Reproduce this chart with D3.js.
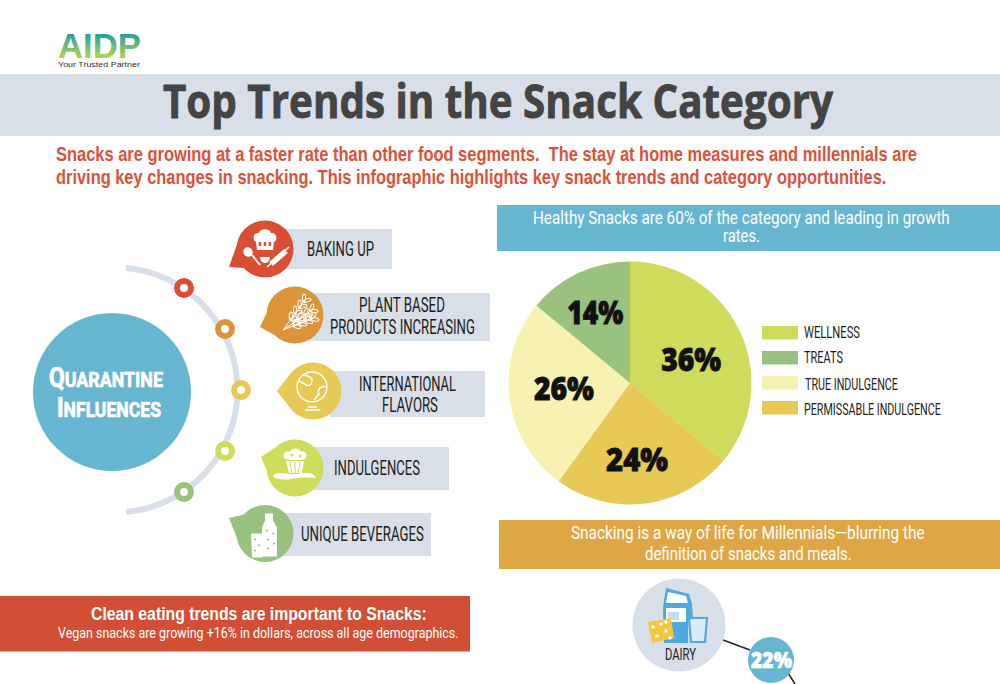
<!DOCTYPE html>
<html><head><meta charset="utf-8">
<script src="https://cdn.jsdelivr.net/npm/d3@7"></script>
<style>html,body{margin:0;padding:0;background:#fff}svg{display:block}</style></head>
<body><svg id="c" width="1000" height="684"></svg>
<script>
const pieCategories = ["WELLNESS","PERMISSABLE INDULGENCE","TRUE INDULGENCE","TREATS"];
const pieValues = [36,24,26,14];
const pieColors = ["#cfdb5b","#e9c955","#f8f2b2","#98c27e"];
const legendOrder = ["WELLNESS","TREATS","TRUE INDULGENCE","PERMISSABLE INDULGENCE"];
const trendLabels = ["BAKING UP","PLANT BASED","PRODUCTS INCREASING","INTERNATIONAL","FLAVORS","INDULGENCES","UNIQUE BEVERAGES"];
const trendColors = ["#d94f33","#dd9438","#e9c955","#cfdb5b","#98c27e"];
const dairyShare = "22%";

const svg = d3.select("#c");
const NARROW = "Roboto,'Liberation Sans',sans-serif";
const SANS = "'Liberation Sans',sans-serif";
const OPEN = "'Open Sans',sans-serif";
const band = "#d9dfe9", blue = "#67b6d1", dark = "#1d1d1b";

function rect(x0,y0,x1,y1,fill,p=svg){return p.append("rect").attr("x",x0).attr("y",y0).attr("width",x1-x0).attr("height",y1-y0).attr("fill",fill);}
/* fit: squeeze a text horizontally so it spans x0..x1 with its baseline at y */
function fit(sel,x0,x1,y){
  const w=sel.node().getComputedTextLength();
  return sel.attr("transform",`translate(${x0},${y}) scale(${(x1-x0)/w},1)`);
}
function txt(s,x0,x1,y,size,fill,font=NARROW,weight=400,p=svg){
  const t=p.append("text").text(s).attr("font-family",font).attr("font-size",size)
    .attr("font-weight",weight).attr("fill",fill).attr("xml:space","preserve");
  return s?fit(t,x0,x1,y):t;
}

/* logo */
const defs = svg.append("defs");
const g = defs.append("linearGradient").attr("id","lg").attr("x1",0).attr("x2",0).attr("y1",0).attr("y2",1);
g.append("stop").attr("offset","15%").attr("stop-color","#0f9aa6");
g.append("stop").attr("offset","75%").attr("stop-color","#a6d05a");
txt("AIDP",58,141,58,36,"url(#lg)",SANS,700);
txt("Your Trusted Partner",58,140,66.5,7.5,"#333",SANS,400);

/* header */
rect(0,74,1000,136,band);
txt("Top Trends in the Snack Category",163,833,118,47,"#444",OPEN,700).attr("stroke","#444").attr("stroke-width",.9);
txt("Snacks are growing at a faster rate than other food segments.  The stay at home measures and millennials are",56,918,161,20,"#d9533a",SANS,700);
txt("driving key changes in snacking. This infographic highlights key snack trends and category opportunities.",56,887,184,20,"#d9533a",SANS,700);

/* quarantine hub */
svg.append("circle").attr("cx",112).attr("cy",392).attr("r",79).attr("fill",blue);
function capsTitle(s,x0,x1,y){
  const t=txt("",x0,x1,y,21,"#fff",NARROW,700).attr("stroke","#fff").attr("stroke-width",.7);
  t.append("tspan").attr("font-size",27).text(s[0]);
  t.append("tspan").text(s.slice(1));
  fit(t,x0,x1,y);
}
capsTitle("QUARANTINE",49,163,387);
capsTitle("INFLUENCES",57,161,417);

/* curved rail */
const railR = 122.5, railCy = 390;
svg.append("path").attr("fill","none").attr("stroke",band).attr("stroke-width",6)
  .attr("d",`M126,${railCy-railR+.5} A${railR},${railR} 0 0 1 126,${railCy+railR-.5}`);
[[184,288],[225,329],[241,390],[225,451],[184,492]].forEach((p,i)=>{
  svg.append("circle").attr("cx",p[0]).attr("cy",p[1]).attr("r",7).attr("fill","#fff")
    .attr("stroke",trendColors[i]).attr("stroke-width",6);
});

/* trend rows */
const deg=Math.PI/180;
const rows = [
 {rc:[280,229,392,269],c:[265,249],tail:[229,267],j:[188,138]},
 {rc:[305,293,490,341],c:[295,315],tail:[260,327],j:[184,135]},
 {rc:[330,371,485,417],c:[313,391],tail:[277,391],j:[215,145]},
 {rc:[310,447,449,490],c:[295,468],tail:[261,457],j:[225,176]},
 {rc:[280,513,431,556],c:[265,533.5],tail:[229,518],j:[222,172]}
];
rows.forEach((r,i)=>{
  rect(r.rc[0],r.rc[1],r.rc[2],r.rc[3],band);
  const [cx,cy]=r.c,[tx,ty]=r.tail,R=28.5;
  svg.append("path").attr("fill",trendColors[i])
    .attr("d",`M${cx+R*Math.cos(r.j[0]*deg)},${cy+R*Math.sin(r.j[0]*deg)} L${tx},${ty} L${cx+R*Math.cos(r.j[1]*deg)},${cy+R*Math.sin(r.j[1]*deg)}Z`);
  svg.append("circle").attr("cx",cx).attr("cy",cy).attr("r",R).attr("fill",trendColors[i]);
});
const labelSpans=[[307,374,256],[359,445,312],[330,475,334],[359,456,391],[382,438,412],[334,420,475],[301,424,541]];
trendLabels.forEach((s,i)=>txt(s,labelSpans[i][0],labelSpans[i][1],labelSpans[i][2],21,dark));

/* icon 1: chef hat, spoon, rolling pin */
const i1 = svg.append("g").attr("transform","translate(265,249)").attr("fill","#fff");
i1.append("path").attr("d","M-9,-7 C-13,-9 -12,-17 -6,-16 C-5,-21 5,-21 6,-16 C12,-17 13,-9 9,-7 L8,1 L-8,1Z");
i1.append("path").attr("d","M-5,-7v4M0,-7v4M5,-7v4").attr("stroke","#d94f33").attr("stroke-width",2.4);
i1.append("path").attr("d","M-13,6 L-5,16").attr("stroke","#fff").attr("stroke-width",2);
i1.append("ellipse").attr("cx",-17).attr("cy",3).attr("rx",4.5).attr("ry",5).attr("transform","rotate(-40 -17 3)");
i1.append("path").attr("d","M6,15 L21,2").attr("stroke","#fff").attr("stroke-width",5.5);
i1.append("path").attr("d","M2,18 L24,-2").attr("stroke","#fff").attr("stroke-width",1.6);
i1.append("path").attr("d","M-5,8 A5,6 0 0 0 5,8Z");
/* icon 2: wheat */
const i2 = svg.append("g").attr("transform","translate(295,315)").attr("fill","none").attr("stroke","#fff").attr("stroke-width",1);
[[ -12,15,10,-15],[-12,15,17,-5],[-12,15,18,3]].forEach(s=>{
  i2.append("path").attr("d",`M${s[0]},${s[1]} L${s[2]},${s[3]}`);
  const ang=Math.atan2(s[3]-s[1],s[2]-s[0])/deg;
  [.35,.55,.75,.95].forEach(f=>{
    const x=s[0]+(s[2]-s[0])*f,y=s[1]+(s[3]-s[1])*f;
    [-35,35].forEach(o=>i2.append("ellipse").attr("cx",0).attr("cy",0).attr("rx",4).attr("ry",1.6)
      .attr("transform",`translate(${x},${y}) rotate(${ang+o}) translate(3.5,0)`));
  });
});
/* icon 3: globe */
const i3 = svg.append("g").attr("transform","translate(312,387)").attr("fill","none").attr("stroke","#fff").attr("stroke-width",1.4);
i3.append("circle").attr("r",15);
i3.append("path").attr("d","M-9,-12 C-2,-11 2,-9 -1,-3 C-4,1 -6,-3 -13,-6");
i3.append("path").attr("d","M15,0 C9,-2 5,2 7,7 L2,13");
i3.append("path").attr("d","M-4,20 H5 M-7,23 H8");
/* icon 4: muffin on tray */
const i4 = svg.append("g").attr("transform","translate(295,468)").attr("fill","#fff");
i4.append("path").attr("d","M-11,-10 C-13,-16 -7,-18 -5,-16 C-3,-21 5,-20 6,-16 C10,-18 13,-13 11,-10 C10,-7 -9,-7 -11,-10Z");
i4.append("path").attr("d","M-9,-7 H9 L7,5 H-6Z");
i4.append("path").attr("d","M-5,-6 L-3,5 M0,-6 V5 M5,-6 L3,5").attr("stroke","#cfdb5b").attr("stroke-width",1);
i4.append("path").attr("d","M-22,8 C-18,2 -8,7 0,6 C10,5 18,3 21,10 C10,9 -2,10 -3,11 C-10,12 -20,12 -22,8Z");
i4.append("circle").attr("cx",-3).attr("cy",-13).attr("r",1.5).attr("fill","#cfdb5b");
i4.append("circle").attr("cx",5).attr("cy",-12).attr("r",1.5).attr("fill","#cfdb5b");
/* icon 5: bottle and glass */
const i5 = svg.append("g").attr("transform","translate(265,533.5)").attr("fill","#fff");
i5.append("path").attr("d","M0,-20 H8 V-13 L12,-6 V23 H-3 V-6 L0,-13Z");
i5.append("path").attr("d","M-14,0 H-2 V24 H-13Z");
[[2,-3],[8,0],[3,6],[9,10],[3,15],[-10,6],[-6,12],[-10,17]].forEach(p=>i5.append("circle").attr("cx",p[0]).attr("cy",p[1]).attr("r",1.1).attr("fill","#98c27e"));

/* healthy snacks band */
rect(497,205,1000,251,blue);
txt("Healthy Snacks are 60% of the category and leading in growth",533,950,224,18,"#fff");
txt("rates.",723,760,242,18,"#fff");

/* pie */
const pie = d3.pie().sort(null)(pieValues);
const arc = d3.arc().innerRadius(0).outerRadius(121.5);
const color = d3.scaleOrdinal(pieCategories,pieColors);
const pg = svg.append("g").attr("transform","translate(630,383)");
pg.selectAll("path").data(pie).join("path").attr("d",arc).attr("fill",(d,i)=>pieColors[i]);
const labelArc = d3.arc().innerRadius(72).outerRadius(72);
const labelShift = [[-4,8],[-2,5.6],[5.4,-3],[-4,-5]];
const labelWidth = [60,62,60,56];
pie.forEach((d,i)=>{
  const [x,y]=labelArc.centroid(d);
  const cx=x+labelShift[i][0], base=y+labelShift[i][1]+11;
  txt(d.value+"%",cx-labelWidth[i]/2,cx+labelWidth[i]/2,base,31,"#111",OPEN,800,pg)
    .attr("stroke","#111").attr("stroke-width",.8);
});

/* legend */
const legendY = d3.scalePoint(legendOrder,[326,401]);
const legendBounds = {"WELLNESS":[804,860,338],"TREATS":[804,843,363],"TRUE INDULGENCE":[805,898,390],"PERMISSABLE INDULGENCE":[804,941,415]};
legendOrder.forEach(k=>{
  rect(762,legendY(k),798,legendY(k)+13.5,color(k));
  const b=legendBounds[k];
  txt(k,b[0],b[1],b[2],17,dark);
});

/* clean eating callout */
rect(0,596,470,651.5,"#d24f35");
txt("Clean eating trends are important to Snacks:",91,427,620,19,"#fff",SANS,700);
txt("Vegan snacks are growing +16% in dollars, across all age demographics.",58,459,637.5,15,"#fff");

/* millennials band */
rect(499,520,1000,569,"#dfa743");
txt("Snacking is a way of life for Millennials—blurring the",571,925,539,19,"#fff");
txt("definition of snacks and meals.",645,852,560,19,"#fff");

/* dairy */
svg.append("path").attr("d","M723,640 L750,650 M788,673 L795,684").attr("stroke","#222").attr("stroke-width",1.5).attr("fill","none");
svg.append("circle").attr("cx",679).attr("cy",625).attr("r",46.5).attr("fill",band);
const cartonBlue="#4fa9dd";
const d = svg.append("g").attr("transform","translate(679,625)");
d.append("path").attr("d","M-13,-37 L10,-31 L13,-21 L14,-8 H9 V18 H-15 L-16,-18Z").attr("fill",cartonBlue);
d.append("path").attr("d","M-11,-33 L7,-29 L9,-22 L-13,-22Z").attr("fill","#fff");
d.append("path").attr("d","M-13,-17 H7 V-3 H-13Z").attr("fill","#fff");
d.append("path").attr("d","M-11,-13 H0 V-5 H-11Z").attr("fill","#bfe0f2");
d.append("path").attr("d","M-31,-3 L-8,-7 L-5,13 L-27,18Z").attr("fill","#f4c93f");
[[-26,2],[-18,-1],[-13,6],[-22,11],[-9,13],[-13,-3]].forEach(p=>d.append("circle").attr("cx",p[0]).attr("cy",p[1]).attr("r",1.8).attr("fill","#fff"));
d.append("path").attr("d","M10,-7 H28 L26,17 H12Z").attr("fill","#d7ecf7").attr("stroke",cartonBlue).attr("stroke-width",2.2);
txt("DAIRY",665,696,660,16,dark);
svg.append("circle").attr("cx",771).attr("cy",660).attr("r",23).attr("fill",blue);
txt(dairyShare,751,792,667.5,22,"#fff",OPEN,800).attr("stroke","#fff").attr("stroke-width",.6);
</script></body></html>
